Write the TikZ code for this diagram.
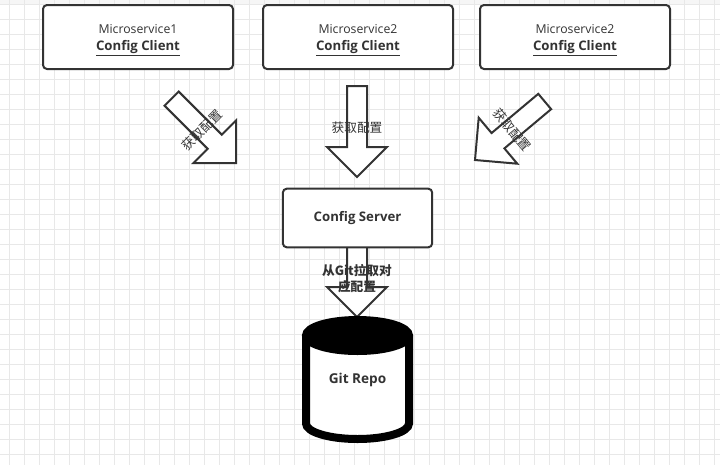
\documentclass[tikz,border=0pt]{standalone}
\usepackage{fontspec}
\setmainfont{Open Sans}
\newfontfamily\cjk{Noto Sans CJK SC}
\definecolor{linec}{HTML}{333333}
\definecolor{gridc}{HTML}{E8E8E8}
\definecolor{txtc}{HTML}{333333}
\newcommand\clientlabel[1]{#1\\{\fontsize{9.9}{12.2}\selectfont\bfseries\underline{Config Client}}}
\begin{document}
\begin{tikzpicture}[x=0.75pt,y=-0.75pt,
  gridline/.style={draw=gridc,line width=0.75pt},
  clientbox/.style={draw=linec,line width=1.5pt,rounded corners=3pt,fill=white,
    minimum width=142.5pt,minimum height=48pt,align=center,inner sep=0pt,
    text=txtc,font=\fontsize{9}{12}\selectfont},
  boxtext/.style={align=center,inner sep=0pt,text=txtc,font=\fontsize{9.2}{12.2}\selectfont},
  serverbox/.style={clientbox,minimum width=112pt,minimum height=44pt,font=\fontsize{9.9}{12}\selectfont\bfseries},
  arrowline/.style={draw=linec,line width=1.5pt,fill=white,line join=miter},
  arrlabel/.style={text=txtc,font=\cjk\fontsize{9.5}{12}\selectfont,inner sep=0pt,align=center},
  blockarr/.pic={\path[arrowline] (0,0) -- (30,-30) -- (10,-30) -- (10,-91) -- (-10,-91) -- (-10,-30) -- (-30,-30) -- cycle;}
]
\useasboundingbox (0,0) rectangle (720,465);
\clip (0,0) rectangle (720,465);
\fill[white] (0,0) rectangle (720,465);
\fill[gray!7] (0,0) rectangle (720,4);
\foreach \gx in {9,24,...,714} \draw[gridline] (\gx,0) -- (\gx,465);
\foreach \gy in {4,19,...,454} \draw[gridline] (0,\gy) -- (720,\gy);

% client boxes
\node[clientbox] (c1) at (138,37) {};
\node[clientbox] (c2) at (358,37) {};
\node[clientbox] (c3) at (575,37) {};
\node[boxtext] (t1) at ([yshift=-2.5pt]c1.center) {\clientlabel{Microservice1}};
\node[boxtext] (t2) at ([yshift=-2.5pt]c2.center) {\clientlabel{Microservice2}};
\node[boxtext] (t3) at ([yshift=-2.5pt]c3.center) {\clientlabel{Microservice2}};

% block arrows towards server
\pic[rotate=45] at (236,163) {blockarr};
\pic at (357,177) {blockarr};
\pic[rotate=-50] at (475,160) {blockarr};
\node[arrlabel,rotate=45] (l1) at (202,130) {获取配置};
\node[arrlabel] (l2) at (357,128) {获取配置};
\node[arrlabel,rotate=-50] (l3) at (512,130) {获取配置};

% bottom arrow
\path[arrowline] (357,317) -- (387,287) -- (367,287) -- (367,244) -- (347,244) -- (347,287) -- (327,287) -- cycle;

% server
\node[serverbox] (srv) at (357.5,218) {Config Server};

% cylinder
\fill[white] (306,335.5) -- (306,423.5) arc[start angle=180,end angle=0,x radius=51.5,y radius=15.5] -- (409,335.5) -- cycle;
\draw[black,line width=6pt] (306,335.5) -- (306,423.5) arc[start angle=180,end angle=0,x radius=51.5,y radius=15.5] -- (409,335.5);
\filldraw[black,line width=6pt] (357.5,335.5) ellipse[x radius=51.5,y radius=15.5];
\node[text=txtc,font=\fontsize{10.2}{12}\selectfont\bfseries] (repo) at (357.5,380) {Git Repo};

\node[arrlabel,font=\cjk\fontsize{9.5}{12}\selectfont\bfseries] (l4) at (357,279) {从Git拉取对\\应配置};
\end{tikzpicture}
\end{document}
